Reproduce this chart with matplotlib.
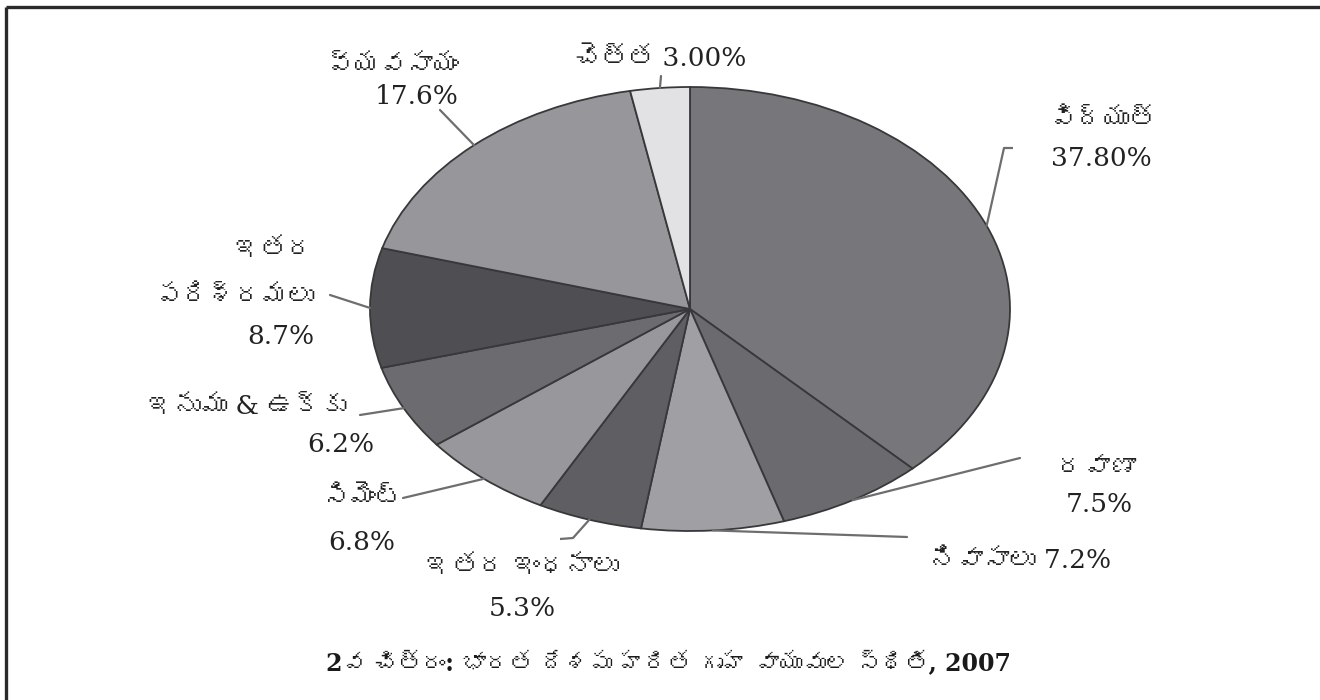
import numpy as np
import matplotlib
matplotlib.use('Agg')
import matplotlib.pyplot as plt
from matplotlib import font_manager
from matplotlib.ft2font import FT2Font

# Data (clockwise from 12 o'clock)
labels = ['విద్యుత్', 'రవాణా', 'నివాసాలు', 'ఇతర ఇంధనాలు', 'సిమెంట్',
          'ఇనుము & ఉక్కు', 'ఇతర\nపరిశ్రమలు', 'వ్యవసాయం', 'చెత్త']
shares = [37.8, 7.5, 7.2, 5.3, 6.8, 6.2, 8.7, 17.6, 3.0]
pct_text = ['37.80%', '7.5%', '7.2%', '5.3%', '6.8%', '6.2%', '8.7%', '17.6%', '3.00%']
title = '2వ చిత్రం: భారత దేశపు హరిత గృహ వాయువుల స్థితి, 2007'

colors = ['#77777b', '#6b6b6f', '#a0a0a4', '#5f5f63', '#98989c',
          '#6c6c70', '#4f4f53', '#97979b', '#e2e2e4']


# look for any installed font with Telugu glyphs, otherwise fall back
def telugu_family():
    for f in font_manager.fontManager.ttflist:
        try:
            if 0x0C24 in FT2Font(f.fname).get_charmap():
                return f.name
        except Exception:
            pass
    return None


fam = telugu_family()
serif = ['DejaVu Serif'] + ([fam] if fam else []) + ['DejaVu Sans']
plt.rcParams['font.family'] = serif

W, H = 1320, 700
fig = plt.figure(figsize=(13.2, 7.0), dpi=100)

# pie geometry in pixels (elliptical pie)
cx, cy, rx, ry = 690, 309, 320, 222
pie_ax = fig.add_axes([(cx - 1.25 * rx) / W, (H - cy - 1.25 * ry) / H,
                       2.5 * rx / W, 2.5 * ry / H])
wedges, _ = pie_ax.pie(shares, colors=colors, startangle=90, counterclock=False,
                       wedgeprops=dict(edgecolor='#38383a', linewidth=1.3))
pie_ax.set_aspect('auto')
pie_ax.set_xlim(-1.25, 1.25)
pie_ax.set_ylim(-1.25, 1.25)

# overlay in pixel coordinates for labels, leaders and frame
lab = fig.add_axes([0, 0, 1, 1], zorder=3)
lab.set_xlim(0, W)
lab.set_ylim(H, 0)
lab.axis('off')
lab.patch.set_alpha(0)

# leader end points (pixels) and extra elbow segments
leader_end = [(1004, 148), (1020, 458), (907, 537), (573, 538), (403, 498),
              (360, 415), (330, 295), (440, 110), (661, 76)]
elbows = {0: (1013, 148), 3: (560, 539)}

# label text positions: (x, y, ha) for name line and pct line
name_pos = [(1103, 120, 'center'), (1097, 467, 'center'), None, (522, 567, 'center'),
            (402, 498, 'right'), (346, 407, 'right'), (314, 273, 'right'),
            (459, 65, 'right'), None]
pct_pos = [(1101, 158, 'center'), (1099, 505, 'center'), None, (522, 608, 'center'),
           (362, 542, 'center'), (341, 445, 'center'), (314, 336, 'right'),
           (459, 97, 'right'), None]
inline_pos = {2: (1021, 560), 8: (661, 58)}

for i, w in enumerate(wedges):
    ang = np.radians((w.theta1 + w.theta2) / 2)
    pie_ax.annotate('', xy=(np.cos(ang), np.sin(ang)), xycoords='data',
                    xytext=leader_end[i], textcoords=lab.transData,
                    arrowprops=dict(arrowstyle='-', color='#6e6e70', lw=1.6,
                                    shrinkA=0, shrinkB=0))
    if i in elbows:
        ex, ey = elbows[i]
        lab.plot([leader_end[i][0], ex], [leader_end[i][1], ey],
                 color='#6e6e70', lw=1.6, solid_capstyle='butt')
    if i in inline_pos:
        x, y = inline_pos[i]
        lab.text(x, y, labels[i] + ' ' + pct_text[i], ha='center', va='center',
                 fontsize=19, color='#222222')
    else:
        x, y, ha = name_pos[i]
        lab.text(x, y, labels[i], ha=ha, va='center', fontsize=19,
                 color='#222222', linespacing=2.1)
        x, y, ha = pct_pos[i]
        lab.text(x, y, pct_text[i], ha=ha, va='center', fontsize=19,
                 color='#222222')

lab.text(669, 663, title, ha='center', va='center', fontsize=17,
         fontweight='bold', color='#1a1a1a')

# frame lines (top and left)
lab.plot([6, W], [7, 7], color='#2a2a2a', lw=2.4, solid_capstyle='butt')
lab.plot([6, 6], [7, H], color='#2a2a2a', lw=2.4, solid_capstyle='butt')

fig.savefig('out.png', dpi=100, facecolor='white')
